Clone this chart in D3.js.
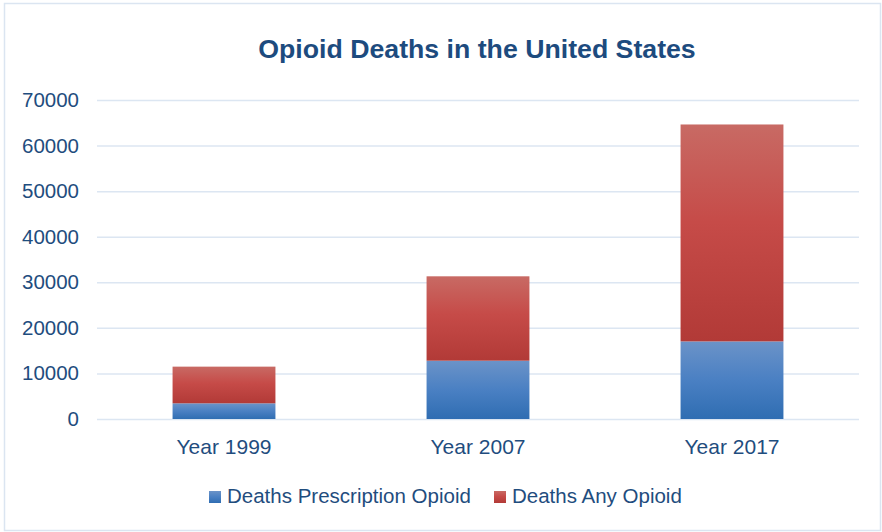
<!DOCTYPE html>
<html>
<head>
<meta charset="utf-8">
<script src="https://cdn.jsdelivr.net/npm/d3@7"></script>
<style>
  body { margin: 0; background: #fff; }
  svg { display: block; font-family: "Liberation Sans", Arial, sans-serif; }
</style>
</head>
<body>
<div id="chart"></div>
<script>
const years = ['Year 1999', 'Year 2007', 'Year 2017'];
const prescription = [3442, 12796, 17029];
const anyOpioid = [8048, 18516, 47600];
const yTicks = [0, 10000, 20000, 30000, 40000, 50000, 60000, 70000];
const seriesNames = ['Deaths Prescription Opioid', 'Deaths Any Opioid'];

const W = 882;
const H = 532;
const margin = { t: 100, r: 23, b: 113, l: 97 };
const textColor = '#1f4d7e';

const rows = years.map((y, i) => ({ year: y, p: prescription[i], a: anyOpioid[i] }));
const stack = d3.stack().keys(['p', 'a'])(rows);

const x = d3.scaleBand()
  .domain(years)
  .range([margin.l, W - margin.r])
  .paddingInner(0.595)
  .paddingOuter(0.2975);

const y = d3.scaleLinear()
  .domain([0, 70000])
  .range([H - margin.b, margin.t]);

const svg = d3.select('#chart').append('svg')
  .attr('width', W)
  .attr('height', H);

// gradients
const defs = svg.append('defs');
const blue = defs.append('linearGradient').attr('id', 'gBlue')
  .attr('x1', 0).attr('y1', 0).attr('x2', 0).attr('y2', 1);
blue.append('stop').attr('offset', '0%').attr('stop-color', '#6b93c8');
blue.append('stop').attr('offset', '50%').attr('stop-color', '#4a80c3');
blue.append('stop').attr('offset', '100%').attr('stop-color', '#2f6db2');

const red = defs.append('linearGradient').attr('id', 'gRed')
  .attr('x1', 0).attr('y1', 0).attr('x2', 0).attr('y2', 1);
red.append('stop').attr('offset', '0%').attr('stop-color', '#c86a64');
red.append('stop').attr('offset', '45%').attr('stop-color', '#c64b48');
red.append('stop').attr('offset', '100%').attr('stop-color', '#b23a37');

// outer border
svg.append('rect')
  .attr('x', 4.5).attr('y', 3.5)
  .attr('width', W - 6).attr('height', H - 5)
  .attr('fill', 'none')
  .attr('stroke', '#dbe5f1')
  .attr('stroke-width', 1.5);

// title
svg.append('text')
  .attr('x', 477)
  .attr('y', 58)
  .attr('text-anchor', 'middle')
  .attr('fill', '#1d4b7e')
  .style('font-size', '26.7px')
  .style('font-weight', 'bold')
  .text('Opioid Deaths in the United States');

// gridlines
const yAxis = d3.axisLeft(y)
  .tickValues(yTicks)
  .tickSize(-(W - margin.r - margin.l))
  .tickPadding(18)
  .tickFormat(d3.format('d'));

const gy = svg.append('g')
  .attr('transform', `translate(${margin.l}, 0)`)
  .call(yAxis);
gy.select('.domain').remove();
gy.selectAll('.tick line')
  .attr('stroke', '#dce6f2')
  .attr('stroke-width', 1.5);
gy.selectAll('.tick text')
  .attr('fill', textColor)
  .style('font-size', '20.5px');

// bars
const fills = ['url(#gBlue)', 'url(#gRed)'];
svg.append('g').selectAll('g')
  .data(stack)
  .join('g')
  .attr('fill', (d, i) => fills[i])
  .selectAll('rect')
  .data(d => d)
  .join('rect')
  .attr('x', d => x(d.data.year))
  .attr('y', d => y(d[1]))
  .attr('width', x.bandwidth())
  .attr('height', d => y(d[0]) - y(d[1]));

// x axis labels
const xAxis = d3.axisBottom(x).tickSize(0).tickPadding(20);
const gx = svg.append('g')
  .attr('transform', `translate(0, ${H - margin.b})`)
  .call(xAxis);
gx.select('.domain').remove();
gx.selectAll('.tick text')
  .attr('fill', textColor)
  .style('font-size', '21px');

// legend
const legendX = [209, 494];
const legend = svg.append('g').selectAll('g')
  .data(seriesNames)
  .join('g')
  .attr('transform', (d, i) => `translate(${legendX[i]}, 491)`);
legend.append('rect')
  .attr('width', 12)
  .attr('height', 12)
  .attr('fill', (d, i) => fills[i]);
legend.append('text')
  .attr('x', 18)
  .attr('y', 12)
  .attr('fill', textColor)
  .style('font-size', '20.5px')
  .text(d => d);
</script>
</body>
</html>
